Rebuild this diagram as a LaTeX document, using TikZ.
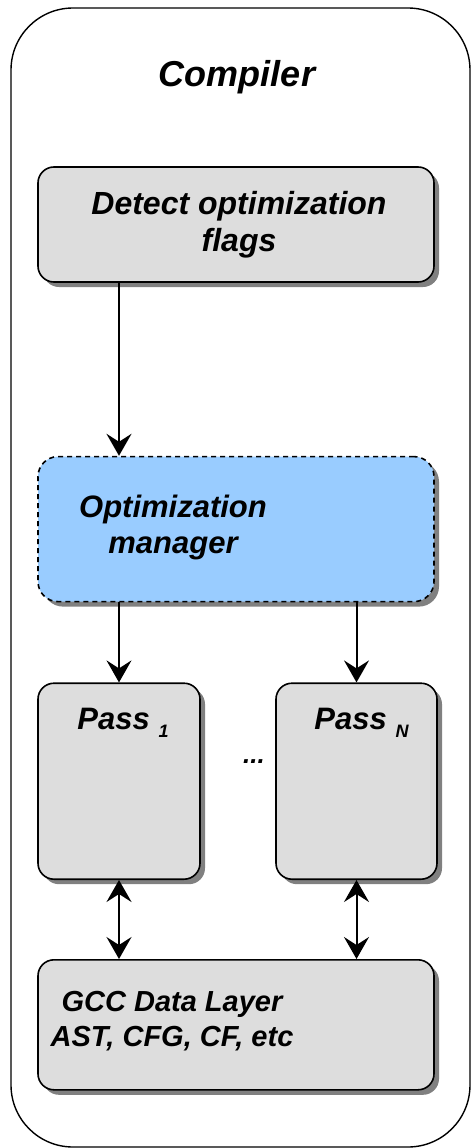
\documentclass[tikz,border=0pt]{standalone}
\usepackage{fontspec}
\setmainfont{Liberation Sans}
\usetikzlibrary{positioning,arrows.meta,shadows}
\definecolor{boxgray}{HTML}{DDDDDD}
\definecolor{mgrblue}{HTML}{99CCFF}
\definecolor{shadowgray}{HTML}{808080}

\newcommand{\passidx}[1]{{\fontsize{18}{18}\selectfont\raisebox{-8pt}{#1}}}

\begin{document}
\begin{tikzpicture}[
  x=1pt, y=1pt,
  node distance=80pt,
  frame/.style={rectangle, draw, line width=1.4pt, rounded corners=62pt,
                minimum width=459pt, minimum height=1139pt},
  box/.style={rectangle, draw, line width=1.6pt, fill=boxgray, rounded corners=16pt,
              drop shadow={shadow xshift=5pt, shadow yshift=-5pt, fill=shadowgray, opacity=1}},
  mgrbox/.style={box, fill=mgrblue, dash pattern=on 5pt off 4pt, rounded corners=20pt},
  lbl/.style={font=\bfseries\itshape\fontsize{31}{36}\selectfont, align=center, inner sep=0pt},
  arr/.style={-{Stealth[length=22pt, width=25pt, inset=8pt]}, line width=2pt},
  darr/.style={{Stealth[length=22pt, width=25pt, inset=8pt]}-{Stealth[length=22pt, width=25pt, inset=8pt]}, line width=2pt}
]
\useasboundingbox (0,0) rectangle (471,-1148);
\node[frame] (compiler) at (240.5,-577.5) {};
\node[lbl, anchor=base, font=\bfseries\itshape\fontsize{36}{40}\selectfont] (title) at (237,-86) {Compiler};

\node[box, minimum width=396pt, minimum height=115pt] (detect) at (236,-224.5) {};
\node[mgrbox, minimum width=396pt, minimum height=145pt, below=173pt of detect] (mgr) {};
\node[box, minimum width=162pt, minimum height=196pt, below=of mgr.south west, anchor=north west] (p1) {};
\node[box, minimum width=161pt, minimum height=196pt, below=of mgr.south east, anchor=north east, xshift=3pt] (pN) {};
\node[box, minimum width=396pt, minimum height=130pt, below=79pt of p1.south west, anchor=north west] (gcc) {};

% texts
\node[lbl, font=\bfseries\itshape\fontsize{32}{37}\selectfont] (detecttxt) at ([xshift=3pt, yshift=0pt]detect.center) {Detect optimization\\flags};
\node[lbl] (mgrtxt) at ([xshift=-63pt, yshift=2pt]mgr.center) {Optimization\\manager};
\node[lbl, anchor=base] (p1txt) at ([xshift=4pt, yshift=-47pt]p1.north) {Pass \passidx{1}};
\node[lbl, anchor=base] (pNtxt) at ([xshift=5pt, yshift=-47pt]pN.north) {Pass \passidx{N}};
\node[lbl, font=\bfseries\itshape\fontsize{26}{26}\selectfont] (dots) at (254,-762) {...};
\node[lbl, font=\bfseries\itshape\fontsize{29}{35}\selectfont] (gcctxt) at ([xshift=-64pt, yshift=4pt]gcc.center) {GCC Data Layer\\AST, CFG, CF, etc};

\draw[arr] (detect.south -| p1) -- (mgr.north -| p1);
\draw[arr] (mgr.south -| p1) -- (p1.north);
\draw[arr] (mgr.south -| pN) -- (pN.north);
\draw[darr] (p1.south) -- (gcc.north -| p1);
\draw[darr] (pN.south) -- (gcc.north -| pN);
\end{tikzpicture}
\end{document}
